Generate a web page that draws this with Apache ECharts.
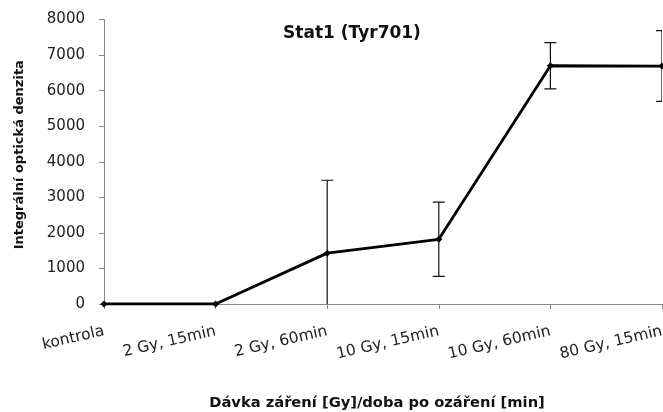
<!DOCTYPE html>
<html>
<head>
<meta charset="utf-8">
<script src="https://cdn.jsdelivr.net/npm/echarts@6/dist/echarts.min.js"></script>
<style>
  html, body { margin: 0; padding: 0; background: #fff; }
  #chart { width: 663px; height: 412px; }
</style>
</head>
<body>
<div id="chart"></div>
<script>
// Dose / time-after-irradiation groups
const categories = ['kontrola', '2 Gy, 15min', '2 Gy, 60min', '10 Gy, 15min', '10 Gy, 60min', '80 Gy, 15min'];
// Mean integrated optical density per group
const means = [0, 0, 1430, 1820, 6700, 6690];
// Symmetric error (± value) per group
const errors = [0, 0, 2050, 1045, 650, 995];
// Y-axis range
const yMin = 0, yMax = 8000, yStep = 1000;

const FONT = 'DejaVu Sans';
const axisGray = '#868686';

const errData = means.map((m, i) => [i, m - errors[i], m + errors[i]]);

const chart = echarts.init(document.getElementById('chart'), null, { renderer: 'canvas' });
chart.setOption({
  animation: false,
  backgroundColor: '#ffffff',
  title: {
    text: 'Stat1 (Tyr701)',
    left: 347, top: 20, textAlign: 'center',
    textStyle: { fontFamily: FONT, fontWeight: 'bold', fontSize: 17, color: '#111' }
  },
  grid: { left: 104, right: 1, top: 19.5, bottom: 108, containLabel: false, outerBoundsMode: 'none' },
  xAxis: {
    type: 'category',
    data: categories,
    boundaryGap: false,
    name: 'Dávka záření [Gy]/doba po ozáření [min]',
    nameLocation: 'middle',
    nameGap: 92,
    nameTextStyle: { fontFamily: FONT, fontWeight: 'bold', fontSize: 14.7, color: '#111', padding: [0, 12, 0, 0] },
    axisLine: { lineStyle: { color: axisGray, width: 1 } },
    axisTick: { show: true, length: 5, lineStyle: { color: axisGray } },
    axisLabel: { rotate: 13, margin: 27, fontFamily: FONT, fontSize: 15.5, color: '#222', interval: 0 },
    splitLine: { show: false }
  },
  yAxis: {
    type: 'value',
    min: yMin, max: yMax, interval: yStep,
    name: 'Integrální optická denzita',
    nameLocation: 'middle',
    nameGap: 78,
    nameTextStyle: { fontFamily: FONT, fontWeight: 'bold', fontSize: 13, color: '#111', padding: [0, 0, 0, 14] },
    axisLine: { show: true, lineStyle: { color: axisGray, width: 1 } },
    axisTick: { show: true, length: 5, lineStyle: { color: axisGray } },
    axisLabel: { margin: 19, fontFamily: FONT, fontSize: 15, color: '#222', formatter: v => String(v) },
    splitLine: { show: false }
  },
  series: [
    {
      type: 'custom',
      clip: true,
      z: 3,
      data: errData,
      renderItem: function (params, api) {
        const idx = api.value(0);
        const top = api.coord([idx, api.value(2)]);
        const bot = api.coord([idx, api.value(1)]);
        if (Math.abs(top[1] - bot[1]) < 1) return null;
        const half = 6;
        const style = { stroke: '#111', lineWidth: 1.2 };
        return {
          type: 'group',
          children: [
            { type: 'line', shape: { x1: top[0], y1: top[1], x2: bot[0], y2: bot[1] }, style: style },
            { type: 'line', shape: { x1: top[0] - half, y1: top[1], x2: top[0] + half, y2: top[1] }, style: style },
            { type: 'line', shape: { x1: bot[0] - half, y1: bot[1], x2: bot[0] + half, y2: bot[1] }, style: style }
          ]
        };
      }
    },
    {
      type: 'line',
      data: means,
      z: 4,
      symbol: 'diamond',
      symbolSize: 7,
      lineStyle: { color: '#000', width: 2.8 },
      itemStyle: { color: '#000' }
    }
  ]
});
</script>
</body>
</html>
